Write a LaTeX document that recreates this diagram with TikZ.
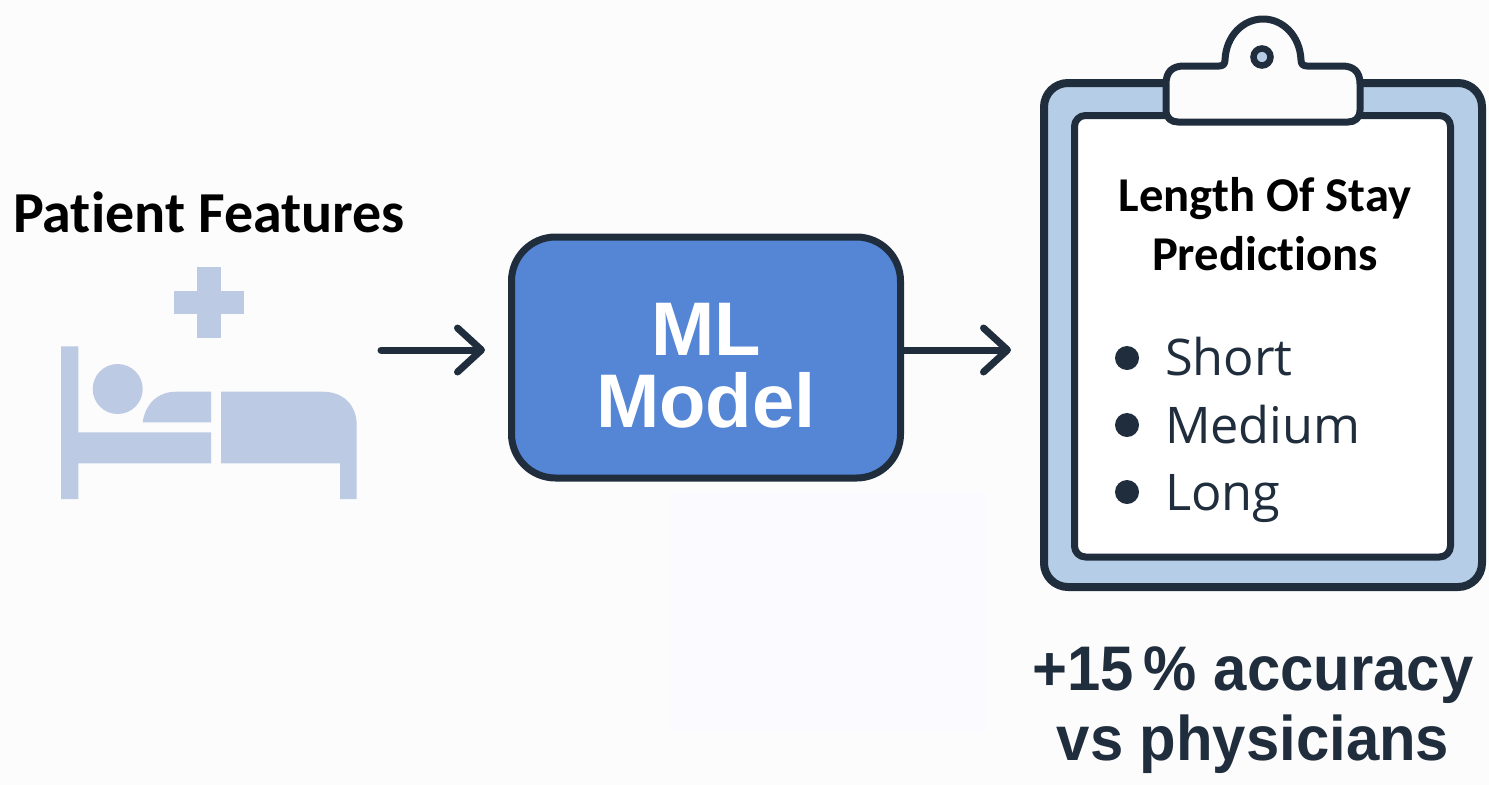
\documentclass[tikz,border=0pt]{standalone}
\usepackage{fontspec}
\usepackage{graphicx}
\usetikzlibrary{arrows.meta}
\setmainfont{Liberation Sans}
\newfontfamily\carlito[Ligatures=NoCommon]{Carlito}
\newfontfamily\opens{Open Sans}
\definecolor{bgc}{HTML}{FCFCFD}
\definecolor{patch}{HTML}{FBFAFE}
\definecolor{ink}{HTML}{1F2D3D}
\definecolor{boxblue}{HTML}{5585D5}
\definecolor{board}{HTML}{B5CDE6}
\definecolor{bedc}{HTML}{BDCAE3}
\tikzset{
  conn/.style={draw=ink,line width=7pt,line cap=round,-{Straight Barb[length=24pt,width=44pt,line cap=round,round]}},
  bedpart/.style={fill=bedc,draw=none},
  outline/.style={draw=ink,line join=round},
  lab/.style={inner sep=0pt,outer sep=0pt,align=center},
  bul/.style={circle,fill=ink,minimum size=24pt,inner sep=0pt},
  item/.style={lab,anchor=base west,font=\opens\fontsize{50.5}{54}\selectfont,text=ink}
}
\begin{document}
\begin{tikzpicture}[x=1pt,y=-1pt]
\useasboundingbox (0,0) rectangle (1489,785);
\fill[bgc] (0,0) rectangle (1489,785);
\fill[patch] (670,492) rectangle (986,732);
% bed icon
\fill[bedpart] (197.3,267.3) rectangle (221.3,337.7);
\fill[bedpart] (174,291.3) rectangle (244.3,314.3);
\fill[bedpart] (61,346.3) -- (78.3,346.3) -- (78.3,432.3) -- (211,432.3) -- (211,463.3) -- (78.3,463.3) -- (78.3,499) -- (61,499) -- cycle;
\fill[bedpart] (117.7,389) circle[radius=25];
\fill[bedpart] (142.7,422.3) .. controls (145,405) and (157,391.7) .. (176,391.7) -- (211,391.7) -- (211,422.3) -- cycle;
\fill[bedpart] (221,391.7) -- (323,391.7) .. controls (343,391.7) and (356.7,405) .. (356.7,425) -- (356.7,499) -- (340,499) -- (340,463.3) -- (221,463.3) -- cycle;
\node[lab,anchor=base west,font=\carlito\bfseries\fontsize{58}{60}\selectfont,text=black] (feat) at (13,232) {Patient Features};
% model
\node[draw=ink,line width=7pt,fill=boxblue,rounded corners=44pt,minimum width=389pt,minimum height=241pt,inner sep=0pt,outer sep=0pt,
  lab,font=\bfseries\fontsize{76}{72}\selectfont,text=white,text depth=0pt] (box) at (706,357.5) {\raisebox{30pt}{\begin{tabular}{@{}c@{}}ML\\[-4pt]Model\end{tabular}}};
% clipboard
\draw[outline,line width=8pt,fill=board,rounded corners=24pt] (1044,83) rectangle (1482,587);
\draw[outline,line width=7pt,fill=white,rounded corners=11pt] (1074.5,115.5) rectangle (1450.5,557);
\path[outline,line width=7pt,fill=bgc] (1166,84) .. controls (1166,72) and (1172,66) .. (1184,66)
  -- (1219,66) .. controls (1223,66) and (1225,64) .. (1225,60)
  .. controls (1226,36) and (1243,19) .. (1263,19)
  .. controls (1283,19) and (1300,36) .. (1301,60)
  .. controls (1301,64) and (1303,66) .. (1307,66)
  -- (1342,66) .. controls (1354,66) and (1360,72) .. (1360,84)
  -- (1360,110) .. controls (1360,118) and (1355,122) .. (1348,122)
  -- (1178,122) .. controls (1171,122) and (1166,118) .. (1166,110) -- cycle;
\draw[draw=ink,line width=6.5pt,fill=board] (1262,57) circle[radius=8.5];
\node[lab,font=\carlito\bfseries\fontsize{48.6}{59}\selectfont,text=black] (title) at (1265,224) {Length Of Stay\\Predictions};
\node[bul] (b1) at (1127,358) {};
\node[bul] (b2) at (1127,425) {};
\node[bul] (b3) at (1127,492) {};
\node[item] (t1) at (1165,375) {Short};
\node[item] (t2) at (1165,443) {Medium};
\node[item] (t3) at (1165,510) {Long};
\node[lab,font=\bfseries\fontsize{63}{70}\selectfont,text=ink] (acc) at (1253,710) {\scalebox{.95}[1]{+15\,\% accuracy}\\\scalebox{.95}[1]{vs physicians}};
% connectors
\coordinate (in0) at (381,350);
\coordinate (in1) at (485,350);
\coordinate (clipin) at (1011,350);
\draw[conn] (in0) -- (in1);
\draw[conn] (box.east |- clipin) -- (clipin);
\end{tikzpicture}
\end{document}
